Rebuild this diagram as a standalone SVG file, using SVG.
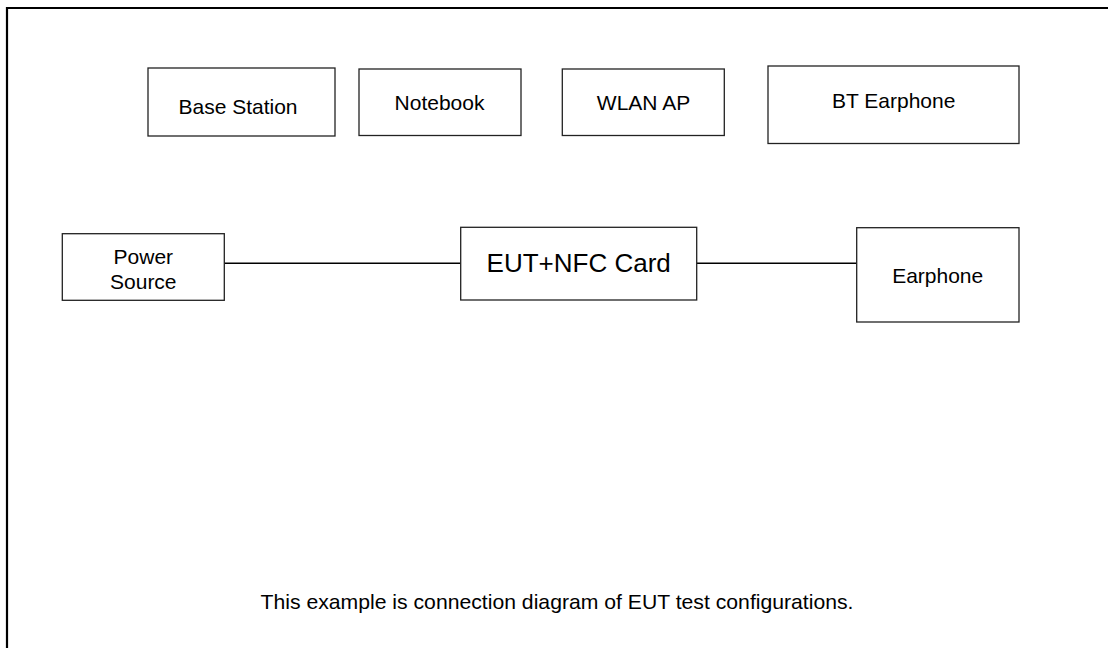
<svg xmlns="http://www.w3.org/2000/svg" width="1108" height="648" viewBox="0 0 1108 648">
<style>
.box{fill:#fff;stroke:#222;stroke-width:1.3}
.t{font-family:"Liberation Sans",Arial,sans-serif;font-size:21px;fill:#000;text-anchor:middle}
.big{font-size:26px}
.wire{stroke:#000;stroke-width:1.6;fill:none}
</style>
<rect width="1108" height="648" fill="#fff"/>
<path d="M7,648 V8 H1108" fill="none" stroke="#000" stroke-width="2.2"/>
<g id="connectors">
<line class="wire" x1="224.3" y1="263.3" x2="460.7" y2="263.3"/>
<line class="wire" x1="696.7" y1="263.3" x2="856.7" y2="263.3"/>
</g>
<g id="base-station"><rect class="box" x="148" y="68" width="187" height="68"/><text class="t" x="238" y="113.5">Base Station</text></g>
<g id="notebook"><rect class="box" x="359" y="69" width="162" height="66.5"/><text class="t" x="439.5" y="110">Notebook</text></g>
<g id="wlan-ap"><rect class="box" x="562.3" y="69" width="162" height="66.5"/><text class="t" x="643.5" y="110">WLAN AP</text></g>
<g id="bt-earphone"><rect class="box" x="768" y="66" width="251" height="77.5"/><text class="t" x="893.7" y="107.7">BT Earphone</text></g>
<g id="power-source"><rect class="box" x="62.3" y="233.7" width="162" height="66.6"/><text class="t" x="143.3" y="264.3">Power</text><text class="t" x="143.3" y="289">Source</text></g>
<g id="eut"><rect class="box" x="460.7" y="227.3" width="236" height="72.7"/><text class="t big" x="578.7" y="271.7">EUT+NFC Card</text></g>
<g id="earphone"><rect class="box" x="856.7" y="227.7" width="162.3" height="94.3"/><text class="t" x="937.7" y="282.7">Earphone</text></g>
<text class="t" x="557" y="609.3" textLength="593" lengthAdjust="spacingAndGlyphs">This example is connection diagram of EUT test configurations.</text>
</svg>
